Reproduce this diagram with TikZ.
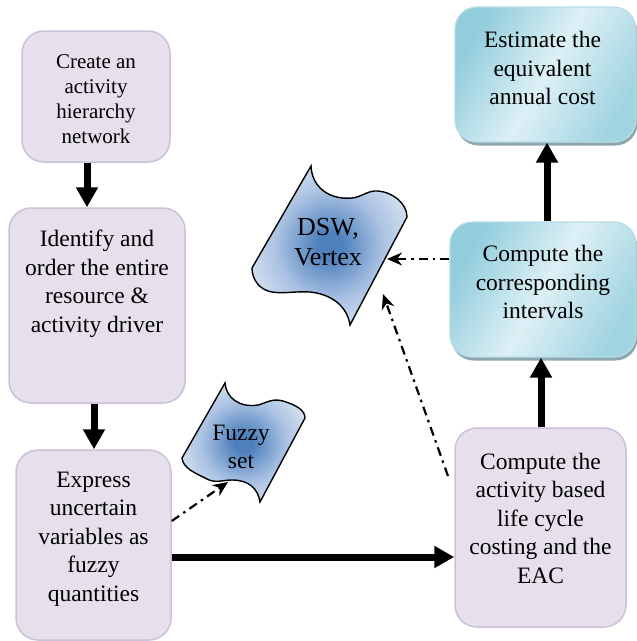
\documentclass[tikz,border=0pt]{standalone}
\usepackage{fontspec}
\setmainfont{Liberation Serif}
\usetikzlibrary{arrows.meta,shadows,calc}
\definecolor{lavfill}{HTML}{E5E0EC}
\definecolor{lavdraw}{HTML}{CCC0DA}
\definecolor{tealD}{HTML}{92CDDC}
\definecolor{tealL}{HTML}{DDF0F5}
\definecolor{tealB}{HTML}{B6DDE8}
\definecolor{shadowc}{HTML}{8EA7AE}
\definecolor{blueIn}{HTML}{4F81BD}
\definecolor{blueMid}{HTML}{A9C1E2}
\definecolor{blueOut}{HTML}{DCE6F2}
\pgfdeclareradialshading{wavesh}{\pgfpoint{0bp}{0bp}}{color(0bp)=(blueIn); color(4bp)=(blueIn); color(17bp)=(blueMid); color(29bp)=(blueOut); color(60bp)=(blueOut)}
\begin{document}
\begin{tikzpicture}[x=1pt,y=-1pt,
  lav/.style={rounded corners=22pt, fill=lavfill, draw=lavdraw, line width=1.5pt, inner sep=0pt},
  tealbox/.style={rounded corners=22pt, draw=tealB, line width=1.2pt, inner sep=0pt,
     left color=tealD, right color=tealD!80!tealL, middle color=tealL, shading angle=60,
     drop shadow={shadow xshift=1.5pt, shadow yshift=-3.5pt, fill=shadowc, opacity=1}},
  txt/.style={align=center, font=\fontsize{23.5pt}{28.5pt}\selectfont, inner sep=0pt},
  smalltxt/.style={align=center, font=\fontsize{21pt}{25pt}\selectfont, inner sep=0pt},
  thickarrow/.style={line width=7pt, -{Triangle[length=20pt,width=21pt]}},
  dd/.style={line width=2.2pt, dash pattern=on 9pt off 5pt on 2.5pt off 5pt, -{Stealth[length=15pt,width=13pt]}},
  wave/.style={draw=black, line width=1.4pt, shading=wavesh}
]
\useasboundingbox (0,0) rectangle (637,641);

% boxes
\node[lav, minimum width=148pt, minimum height=131pt,
  label={[smalltxt, yshift=-2.5pt]center:{Create an\\activity\\hierarchy\\network}}] (b1) at (96,96.5) {};
\node[lav, minimum width=176pt, minimum height=195pt,
  label={[txt, yshift=21.5pt]center:{Identify and\\order the entire\\resource \&\\activity driver}}] (b2) at (97,305.5) {};
\node[lav, minimum width=155pt, minimum height=190pt,
  label={[txt, yshift=6pt]center:{Express\\uncertain\\variables as\\fuzzy\\quantities}}] (b3) at (93.5,545) {};
\node[lav, minimum width=171pt, minimum height=199pt,
  label={[txt, yshift=9.5pt]center:{Compute the\\activity based\\life cycle\\costing and the\\EAC}}] (b4) at (540.5,527.5) {};
\node[tealbox, minimum width=186pt, minimum height=135pt,
  label={[txt, yshift=7.5pt]center:{Compute the\\corresponding\\intervals}}] (b5) at (543,289.5) {};
\node[tealbox, minimum width=181pt, minimum height=135pt,
  label={[txt, yshift=6.5pt, xshift=-3pt]center:{Estimate the\\equivalent\\annual cost}}] (b6) at (545.5,74.5) {};

% wave shapes
\shadedraw[wave] (311,166) .. controls (312,188) and (330,200) .. (352,198)
  .. controls (362,197) and (368,190) .. (378,191)
  .. controls (392,192) and (407,203) .. (407,217)
  -- (350,325)
  .. controls (347,305) and (330,294) .. (310,292)
  .. controls (295,291) and (285,294) .. (272,292)
  .. controls (260,290) and (252,280) .. (252,268) -- cycle;
\node[font=\fontsize{26pt}{30pt}\selectfont, align=center, inner sep=0pt] (dsw) at (328,242) {DSW,\\Vertex};

\shadedraw[wave] (225,383) .. controls (226,398) and (240,408) .. (258,405)
  .. controls (266,403) and (272,398) .. (283,401)
  .. controls (296,405) and (305,410) .. (305,418)
  -- (260,502)
  .. controls (258,488) and (248,480) .. (232,480)
  .. controls (222,480) and (215,484) .. (205,478)
  .. controls (195,473) and (183,468) .. (182,458) -- cycle;
\node[txt] (fz) at (241,447) {Fuzzy\\set};

% thick arrows
\coordinate (x1) at (87,0);
\coordinate (x2) at (94,0);
\coordinate (x4) at (541,0);
\coordinate (x5) at (547,0);
\coordinate (hy) at (0,557);
\draw[thickarrow] (b1.south -| x1) -- (b2.north -| x1);
\draw[thickarrow] (b2.south -| x2) -- (b3.north -| x2);
\draw[thickarrow] (b3.east |- hy) -- (b4.west |- hy);
\draw[thickarrow] (b4.north -| x4) -- (b5.south -| x4);
\draw[thickarrow] (b5.north -| x5) -- (b6.south -| x5);

% dash-dot arrows
\coordinate (dswR) at (387,259);
\coordinate (dswB) at (383,294);
\coordinate (d2s) at (448,476);
\coordinate (fzB) at (228,482);
\coordinate (d3y) at (0,521);
\draw[dd] (b5.west |- dswR) -- (dswR);
\draw[dd] (d2s) -- (dswB);
\draw[dd] (b3.east |- d3y) -- (fzB);
\end{tikzpicture}
\end{document}
